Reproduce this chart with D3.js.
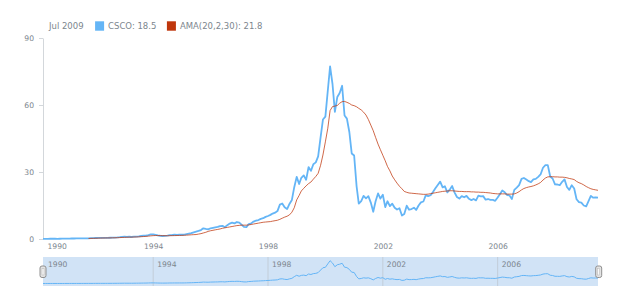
<!DOCTYPE html>
<html>
<head>
<meta charset="utf-8">
<script src="https://cdn.jsdelivr.net/npm/d3@7"></script>
<style>
  body { margin: 0; background: #fff; }
  text { font-family: "DejaVu Sans", Verdana, sans-serif; fill: #7c868e; }
</style>
</head>
<body>
<div id="chart"></div>
<script>
// monthly closes, first value is Mar 1990
var cscoStart = "1990-03";
var csco = [
  0.08,0.09,0.10,0.11,0.12,0.11,0.10,0.11,0.13,0.14,
  0.16,0.19,0.22,0.22,0.24,0.26,0.28,0.30,0.29,0.32,0.36,0.40,
  0.45,0.50,0.52,0.48,0.50,0.52,0.55,0.60,0.65,0.70,0.80,0.95,
  1.05,0.95,1.00,0.90,1.05,1.10,1.20,1.35,1.45,1.50,1.75,2.05,
  2.10,1.85,1.60,1.45,1.35,1.40,1.50,1.75,1.80,1.90,1.85,1.95,
  1.90,2.00,2.20,2.40,2.60,3.00,3.30,3.60,4.00,4.80,4.50,4.30,
  4.80,5.00,5.20,5.40,5.80,5.90,5.30,6.20,6.90,7.30,7.00,7.60,
  7.30,6.30,5.40,5.30,6.70,7.00,7.80,8.20,8.50,9.00,9.30,9.90,
  10.3,10.8,11.4,11.8,12.5,15.4,15.9,14.2,13.4,15.7,17.5,23.2,
  27.8,24.6,27.4,28.5,26.5,32.2,30.5,33.5,34.3,37.0,45.5,53.5,
  54.8,66.5,77.3,69.3,56.9,63.6,65.4,68.6,55.3,53.9,47.9,38.3,
  37.4,23.7,15.8,17.0,19.3,18.2,19.2,16.3,12.2,16.9,20.4,18.1,
  19.8,14.3,16.9,14.7,15.8,14.0,13.2,13.8,10.5,11.2,14.9,13.1,
  13.4,14.0,13.0,15.0,16.4,16.8,19.5,19.2,19.6,21.0,22.7,24.2,
  25.7,23.1,23.6,20.9,22.1,23.7,20.9,18.8,18.1,19.2,18.7,19.3,
  18.0,17.4,17.9,17.3,19.4,19.1,19.2,17.6,17.9,17.5,17.5,17.1,
  18.6,20.2,21.7,20.9,19.7,19.5,17.9,22.0,23.0,24.1,26.9,27.3,
  26.6,25.9,25.5,26.7,26.9,27.8,28.9,31.9,33.1,33.1,28.0,27.1,
  24.5,24.4,24.1,25.6,26.7,23.3,22.0,24.1,22.6,17.8,16.5,16.3,
  15.0,14.6,16.8,19.3,18.5,18.6,18.5
];

// adaptive moving average, first value is Oct 1991
var amaStart = "1991-10";
var ama = [
  0.25,0.27,0.30,
  0.33,0.37,0.41,0.44,0.46,0.48,0.50,0.52,0.55,0.58,0.62,0.68,
  0.74,0.78,0.82,0.85,0.88,0.92,0.97,1.03,1.10,1.17,1.27,1.40,
  1.50,1.55,1.55,1.53,1.50,1.48,1.47,1.48,1.50,1.53,1.56,1.60,
  1.63,1.67,1.72,1.80,1.88,1.95,2.00,2.20,2.40,2.70,3.00,3.40,
  3.70,3.90,4.10,4.30,4.50,4.80,5.00,5.20,5.40,5.60,5.80,6.00,
  6.10,6.20,6.20,6.20,6.30,6.50,6.70,6.90,7.10,7.30,7.50,7.60,
  7.70,7.80,8.00,8.20,8.40,8.80,9.30,9.80,10.2,10.8,12.0,14.0,
  17.5,19.5,21.5,22.7,23.8,24.8,25.5,26.8,28.0,29.4,33.0,37.6,
  43.5,49.6,57.5,59.3,59.5,59.8,60.8,61.5,61.6,61.2,60.7,60.0,
  59.7,59.2,58.5,57.8,56.8,55.5,53.5,51.0,48.5,45.5,42.5,40.0,
  37.5,35.0,32.5,30.5,28.2,26.5,25.0,23.6,22.5,21.3,20.9,20.6,
  20.5,20.4,20.3,20.2,20.1,20.0,20.0,20.1,20.3,20.5,20.7,20.9,
  21.1,21.3,21.4,21.5,21.6,21.6,21.5,21.4,21.3,21.3,21.2,21.2,
  21.2,21.1,21.1,21.0,21.0,20.9,20.9,20.8,20.7,20.6,20.4,20.3,
  20.2,20.2,20.2,20.2,20.1,20.1,20.1,20.2,20.6,21.2,22.0,22.6,
  23.0,23.3,23.5,23.8,24.2,24.7,25.3,26.4,27.3,27.8,27.9,27.9,
  27.8,27.8,27.7,27.7,27.6,27.4,27.1,26.9,26.6,25.8,25.2,24.8,
  24.2,23.5,23.0,22.5,22.2,22.0,21.8
];

var yTicks = [0, 30, 60, 90];
var xTickYears = [1990, 1994, 1998, 2002, 2006];
var seriesNames = ["CSCO", "AMA(20,2,30)"];
var seriesColors = ["#64b5f6", "#bf360c"];

var width = 620, height = 300,
    plot = {left: 43, right: 598, top: 38, bottom: 239},
    scroll = {top: 257, bottom: 286};

var parseMonth = d3.timeParse("%Y-%m");

function toPoints(start, values) {
  var s = parseMonth(start);
  return values.map(function(v, i) { return {date: d3.timeMonth.offset(s, i), value: v}; });
}

var cscoData = toPoints(cscoStart, csco),
    amaData = toPoints(amaStart, ama);

var svg = d3.select("#chart").append("svg")
    .attr("width", width).attr("height", height);

var x = d3.scaleTime()
    .domain(d3.extent(cscoData, function(d) { return d.date; }))
    .range([plot.left, plot.right]);

var y = d3.scaleLinear()
    .domain([0, 90])
    .range([plot.bottom, plot.top]);

// y axis
var yAxis = svg.append("g")
    .attr("transform", "translate(" + plot.left + ",0)")
    .call(d3.axisLeft(y).tickValues(yTicks).tickSize(4).tickSizeOuter(0).tickPadding(5));
yAxis.select(".domain").attr("stroke", "#d3d7db");
yAxis.selectAll(".tick line").attr("stroke", "#d3d7db");
yAxis.selectAll("text").style("font-size", "7.6px").attr("fill", "#7c868e");

// x labels
var tickDates = xTickYears.map(function(yr) { return new Date(yr, 0, 1); });
var xAxis = svg.append("g")
    .attr("transform", "translate(0," + plot.bottom + ")")
    .call(d3.axisBottom(x).tickValues(tickDates).tickFormat(d3.timeFormat("%Y")).tickSize(0).tickPadding(5));
xAxis.select(".domain").remove();
xAxis.selectAll("text").style("font-size", "7.6px").attr("fill", "#7c868e")
    .each(function(d) {
      var w = this.getComputedTextLength(), cx = x(d);
      if (cx - w / 2 < plot.left + 4) {
        d3.select(this).attr("x", plot.left + 4 + w / 2 - cx);
      }
    });

// series
var line = d3.line()
    .x(function(d) { return x(d.date); })
    .y(function(d) { return y(d.value); });

svg.append("path")
    .datum(cscoData)
    .attr("fill", "none")
    .attr("stroke", seriesColors[0])
    .attr("stroke-width", 1.8)
    .attr("stroke-linejoin", "round")
    .attr("d", line);

svg.append("path")
    .datum(amaData)
    .attr("fill", "none")
    .attr("stroke", seriesColors[1])
    .attr("stroke-opacity", 0.75)
    .attr("stroke-width", 1)
    .attr("d", line);

// legend
var legend = svg.append("g").attr("transform", "translate(0,26)");
var lx = 49;
var dateText = legend.append("text")
    .attr("x", lx).attr("dy", "0.35em")
    .style("font-size", "8.5px")
    .text(d3.timeFormat("%b %Y")(cscoData[cscoData.length - 1].date));
lx += dateText.node().getComputedTextLength() + 11.5;
[csco, ama].forEach(function(vals, i) {
  legend.append("rect")
      .attr("x", lx).attr("y", -4.7)
      .attr("width", 9).attr("height", 9.4)
      .attr("fill", seriesColors[i]);
  lx += 13;
  var t = legend.append("text")
      .attr("x", lx).attr("dy", "0.35em")
      .style("font-size", "8.5px")
      .text(seriesNames[i] + ": " + vals[vals.length - 1]);
  lx += t.node().getComputedTextLength() + 10.5;
});

// scroller
var sc = svg.append("g");
sc.append("rect")
    .attr("x", plot.left).attr("y", scroll.top)
    .attr("width", plot.right - plot.left).attr("height", scroll.bottom - scroll.top)
    .attr("fill", "#d1e3f6");

var ys = d3.scaleLinear()
    .domain([0, d3.max(csco)])
    .range([scroll.bottom - 2.5, scroll.top + 3.7]);

tickDates.forEach(function(d) {
  var tx = x(d);
  if (tx > plot.left) {
    sc.append("line")
        .attr("x1", tx).attr("x2", tx)
        .attr("y1", scroll.top).attr("y2", scroll.bottom)
        .attr("stroke", "#bfc8d2").attr("stroke-width", 0.8);
  }
  sc.append("text")
      .attr("x", Math.max(tx, plot.left + 1) + 4)
      .attr("y", scroll.top + 10)
      .style("font-size", "7.6px")
      .attr("fill", "#8a949c")
      .text(d.getFullYear());
});

sc.append("path")
    .datum(cscoData)
    .attr("fill", "none")
    .attr("stroke", seriesColors[0])
    .attr("stroke-width", 1)
    .attr("d", d3.line()
      .x(function(d) { return x(d.date); })
      .y(function(d) { return ys(d.value); }));

[plot.left, plot.right + 0.7].forEach(function(hx) {
  sc.append("rect")
      .attr("x", hx - 3).attr("y", 266)
      .attr("width", 6).attr("height", 11.5)
      .attr("rx", 2)
      .attr("fill", "#e4e4e4").attr("stroke", "#8f8f8f").attr("stroke-width", 1);
  sc.append("rect")
      .attr("x", hx - 1).attr("y", 268.5)
      .attr("width", 2).attr("height", 6.5)
      .attr("fill", "#fafafa").attr("stroke", "#b5b5b5").attr("stroke-width", 0.5);
});
</script>
</body>
</html>
